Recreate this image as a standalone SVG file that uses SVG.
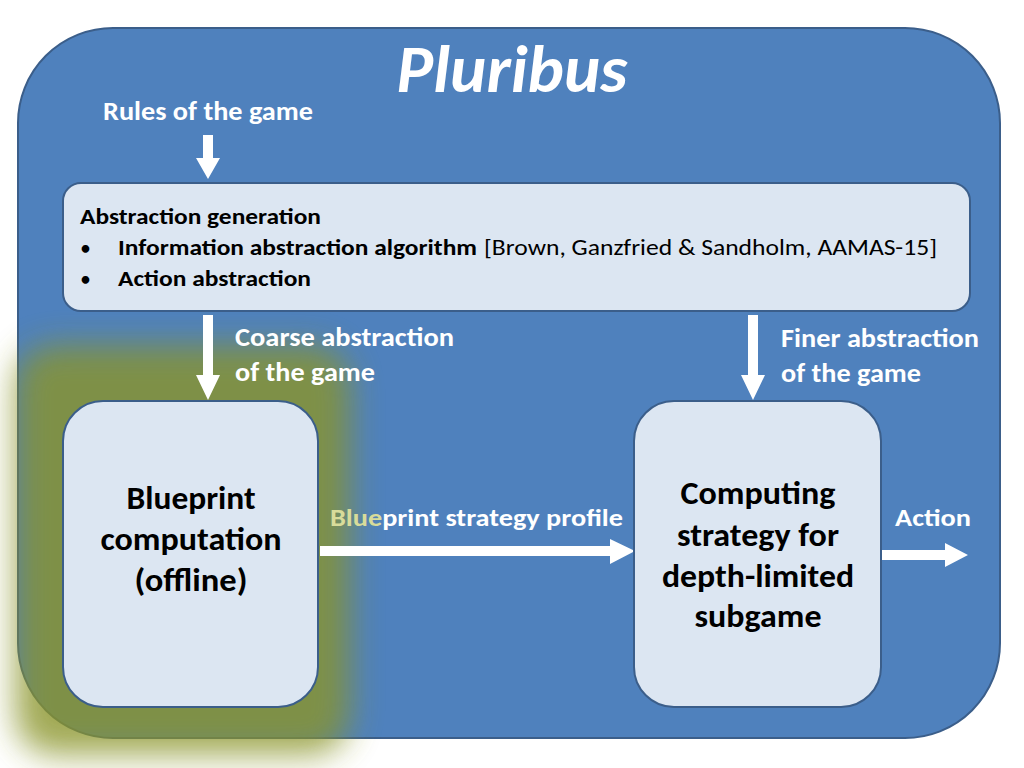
<svg xmlns="http://www.w3.org/2000/svg" width="1024" height="768" viewBox="0 0 1024 768">
<defs>
<style>
.w{fill:#fff;font-family:Carlito,"Open Sans","Liberation Sans",sans-serif;font-weight:bold}
.k{fill:#000;font-family:Carlito,"Open Sans","Liberation Sans",sans-serif;font-weight:bold}
.box{fill:#dce6f2;stroke:#3b5e8a;stroke-width:2}
.arr{fill:#fff}
</style>
<filter id="blur" x="-50%" y="-50%" width="200%" height="200%"><feGaussianBlur stdDeviation="16"/></filter>
</defs>
<rect width="1024" height="768" fill="#fff"/>
<g id="frame">
<rect x="18" y="28" width="982" height="710" rx="95" fill="#4f81bd" stroke="#3b5e8a" stroke-width="2"/>
</g>
<g id="glow">
<rect x="15" y="345" width="335" height="410" rx="40" fill="#8a942c" opacity="0.8" filter="url(#blur)"/>
</g>
<text x="512" y="92" class="w" font-size="66" font-style="italic" text-anchor="middle" textLength="231" lengthAdjust="spacingAndGlyphs">Pluribus</text>
<text x="103" y="120" class="w" font-size="27" textLength="210" lengthAdjust="spacingAndGlyphs">Rules of the game</text>
<g id="connectors">
<polygon class="arr" points="203,135 213,135 213,158 220,158 208,179 196,158 203,158"/>
<polygon class="arr" points="203,315 213,315 213,375 220,375 208,400 196,375 203,375"/>
<polygon class="arr" points="748,315 758,315 758,375 765,375 753,400 741,375 748,375"/>
<polygon class="arr" points="320,546 610,546 610,539 635,551 610,564 610,556 320,556"/>
<polygon class="arr" points="882,550 945,550 945,543 968,555 945,567 945,560 882,560"/>
</g>
<g id="abstraction">
<rect class="box" x="63" y="183" width="907" height="128" rx="18"/>
<text x="80" y="224" class="k" font-size="23" textLength="241" lengthAdjust="spacingAndGlyphs">Abstraction generation</text>
<text x="81" y="254" class="k" font-size="18">•</text>
<text x="118" y="255" class="k" font-size="23" textLength="359" lengthAdjust="spacingAndGlyphs">Information abstraction algorithm</text>
<text x="484" y="255" font-size="23" fill="#000" font-family="Carlito,'Open Sans','Liberation Sans',sans-serif" textLength="453" lengthAdjust="spacingAndGlyphs">[Brown, Ganzfried &amp; Sandholm, AAMAS-15]</text>
<text x="81" y="285" class="k" font-size="18">•</text>
<text x="118" y="286" class="k" font-size="23" textLength="193" lengthAdjust="spacingAndGlyphs">Action abstraction</text>
</g>
<text x="235" y="346" class="w" font-size="26" textLength="219" lengthAdjust="spacingAndGlyphs">Coarse abstraction</text>
<text x="235" y="381" class="w" font-size="26" textLength="140" lengthAdjust="spacingAndGlyphs">of the game</text>
<text x="781" y="347" class="w" font-size="26" textLength="198" lengthAdjust="spacingAndGlyphs">Finer abstraction</text>
<text x="781" y="382" class="w" font-size="26" textLength="140" lengthAdjust="spacingAndGlyphs">of the game</text>
<g id="blueprint">
<rect class="box" x="63" y="401" width="255" height="306" rx="40"/>
<text x="191" y="509" class="k" font-size="33" text-anchor="middle" textLength="129" lengthAdjust="spacingAndGlyphs">Blueprint</text>
<text x="191" y="550" class="k" font-size="33" text-anchor="middle" textLength="181" lengthAdjust="spacingAndGlyphs">computation</text>
<text x="191" y="591" class="k" font-size="33" text-anchor="middle" textLength="113" lengthAdjust="spacingAndGlyphs">(offline)</text>
</g>
<g id="subgame">
<rect class="box" x="634" y="401" width="247" height="306" rx="40"/>
<text x="758" y="504" class="k" font-size="33" text-anchor="middle" textLength="155" lengthAdjust="spacingAndGlyphs">Computing</text>
<text x="758" y="546" class="k" font-size="33" text-anchor="middle" textLength="162" lengthAdjust="spacingAndGlyphs">strategy for</text>
<text x="758" y="587" class="k" font-size="33" text-anchor="middle" textLength="192" lengthAdjust="spacingAndGlyphs">depth-limited</text>
<text x="758" y="627" class="k" font-size="33" text-anchor="middle" textLength="127" lengthAdjust="spacingAndGlyphs">subgame</text>
</g>
<text x="330" y="526" class="w" font-size="25" textLength="293" lengthAdjust="spacingAndGlyphs"><tspan fill="#d8dc9a">Blue</tspan>print strategy profile</text>
<text x="895" y="526" class="w" font-size="25" textLength="76" lengthAdjust="spacingAndGlyphs">Action</text>
</svg>
